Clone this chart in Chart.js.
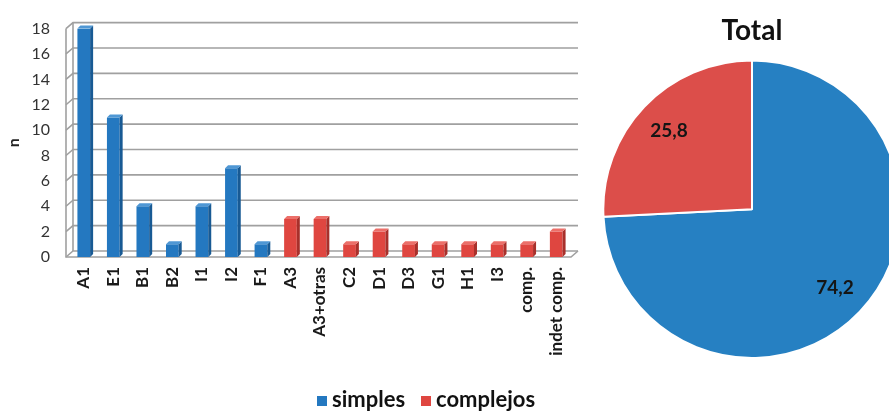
<!DOCTYPE html>
<html>
<head>
<meta charset="utf-8">
<script src="https://cdn.jsdelivr.net/npm/chart.js@4.4.1/dist/chart.umd.min.js"></script>
<style>
  html, body { margin: 0; padding: 0; background: #fff; overflow: hidden; }
  #wrap { position: relative; width: 889px; height: 414px; overflow: hidden; }
  #barChart { position: absolute; left: 0; top: 0; }
  #pieChart { position: absolute; left: 602px; top: 0; }
  #legend {
    position: absolute; left: 317px; top: 385px;
    display: flex; align-items: center; gap: 16px;
    font: bold 22px Lato, "Open Sans", sans-serif; color: #111;
  }
  #legend .item { display: flex; align-items: center; gap: 5px; }
  #legend .sw { width: 10px; height: 10px; display: inline-block; margin-top: 4px; }
</style>
</head>
<body>
<div id="wrap">
  <canvas id="barChart" width="600" height="414"></canvas>
  <canvas id="pieChart" width="300" height="414"></canvas>
  <div id="legend"></div>
</div>
<script>
const categories = ["A1", "E1", "B1", "B2", "I1", "I2", "F1", "A3", "A3+otras", "C2", "D1", "D3", "G1", "H1", "I3", "comp.", "indet comp."];
const simples = [18, 11, 4, 1, 4, 7, 1, null, null, null, null, null, null, null, null, null, null];
const complejos = [null, null, null, null, null, null, null, 3, 3, 1, 2, 1, 1, 1, 1, 1, 2];
const yTicks = [0, 2, 4, 6, 8, 10, 12, 14, 16, 18];

const groupLabels = ["simples", "complejos"];
const totalValues = [74.2, 25.8];

const barColors = ["#2478c0", "#df4640"];
const sideColors = ["#185a94", "#a8302b"];
const topColors = ["#4f97d4", "#ec6f69"];
const pieColors = ["#2680c2", "#dc4e4a"];

const FONT = 'Lato, "Open Sans", sans-serif';
const DX = 7;
const DY = 6;

// back wall, side wall and floor of the pseudo-3D plot box
const wall3d = {
  id: "wall3d",
  beforeDatasetsDraw(chart) {
    const { ctx, chartArea: a, scales } = chart;
    const y = scales.y;
    const front = a.left - 3;
    ctx.save();
    ctx.strokeStyle = "#a0a0a0";
    ctx.lineWidth = 1.6;
    yTicks.forEach((v) => {
      const py = y.getPixelForValue(v);
      ctx.beginPath();
      ctx.moveTo(front, py);
      ctx.lineTo(front + DX, py - DY);
      ctx.lineTo(a.right + DX, py - DY);
      ctx.stroke();
    });
    const top = y.getPixelForValue(yTicks[yTicks.length - 1]);
    const bottom = y.getPixelForValue(0);
    ctx.beginPath();
    ctx.moveTo(front, top);
    ctx.lineTo(front, bottom);
    ctx.lineTo(a.right, bottom);
    ctx.lineTo(a.right + DX, bottom - DY);
    ctx.moveTo(front + DX, top - DY);
    ctx.lineTo(front + DX, bottom - DY);
    ctx.stroke();
    ctx.restore();
  },
  afterDatasetsDraw(chart) {
    const { ctx } = chart;
    const d = 3;
    ctx.save();
    chart.data.datasets.forEach((ds, i) => {
      chart.getDatasetMeta(i).data.forEach((bar, j) => {
        if (ds.data[j] == null) return;
        const { x, y, base, width } = bar.getProps(["x", "y", "base", "width"], true);
        const l = x - width / 2;
        const r = x + width / 2;
        ctx.fillStyle = sideColors[i];
        ctx.beginPath();
        ctx.moveTo(r, y);
        ctx.lineTo(r + d, y - d);
        ctx.lineTo(r + d, base - d);
        ctx.lineTo(r, base);
        ctx.closePath();
        ctx.fill();
        ctx.fillStyle = topColors[i];
        ctx.beginPath();
        ctx.moveTo(l, y);
        ctx.lineTo(l + d, y - d);
        ctx.lineTo(r + d, y - d);
        ctx.lineTo(r, y);
        ctx.closePath();
        ctx.fill();
      });
    });
    ctx.restore();
  },
};

new Chart(document.getElementById("barChart"), {
  type: "bar",
  data: {
    labels: categories,
    datasets: [
      { label: groupLabels[0], data: simples, backgroundColor: barColors[0] },
      { label: groupLabels[1], data: complejos, backgroundColor: barColors[1] },
    ],
  },
  options: {
    responsive: false,
    animation: false,
    layout: { padding: { top: 23, right: 29, bottom: 37, left: 0 } },
    datasets: { bar: { categoryPercentage: 1, barPercentage: 0.43, grouped: false } },
    plugins: { legend: { display: false }, tooltip: { enabled: false } },
    scales: {
      x: {
        grid: { display: false, drawTicks: false },
        border: { display: false },
        ticks: {
          autoSkip: false,
          minRotation: 90,
          maxRotation: 90,
          padding: 10,
          color: "#1a1a1a",
          font: { family: FONT, weight: "bold", size: 17 },
        },
        afterFit(scale) { scale.height = 120; },
      },
      y: {
        min: 0,
        max: 18,
        grid: { display: false, drawTicks: false },
        border: { display: false },
        ticks: {
          stepSize: 2,
          padding: 19,
          color: "#333",
          font: { family: FONT, size: 16 },
        },
        title: {
          display: true,
          text: "n",
          color: "#222",
          font: { family: FONT, weight: "bold", size: 16 },
        },
        afterFit(scale) { scale.width = 69; },
      },
    },
  },
  plugins: [wall3d],
});

// percentage labels inside the slices
const sliceLabels = {
  id: "sliceLabels",
  afterDatasetsDraw(chart) {
    const { ctx } = chart;
    const meta = chart.getDatasetMeta(0);
    ctx.save();
    ctx.font = `bold 19px ${FONT}`;
    ctx.fillStyle = "#151515";
    ctx.textAlign = "center";
    ctx.textBaseline = "middle";
    meta.data.forEach((arc, i) => {
      const { x, y, startAngle, endAngle, outerRadius } = arc.getProps(["x", "y", "startAngle", "endAngle", "outerRadius"], true);
      const mid = (startAngle + endAngle) / 2;
      const r = outerRadius * 0.77;
      const text = totalValues[i].toFixed(1).replace(".", ",");
      ctx.fillText(text, x + Math.cos(mid) * r, y + Math.sin(mid) * r);
    });
    ctx.restore();
  },
};

new Chart(document.getElementById("pieChart"), {
  type: "pie",
  data: {
    labels: groupLabels,
    datasets: [{
      data: totalValues,
      backgroundColor: pieColors,
      borderColor: "#fff",
      borderWidth: 2,
    }],
  },
  options: {
    responsive: false,
    animation: false,
    layout: { padding: { top: 14, bottom: 55, left: 0, right: 0 } },
    plugins: {
      legend: { display: false },
      tooltip: { enabled: false },
      title: {
        display: true,
        text: "Total",
        color: "#111",
        font: { family: FONT, weight: "bold", size: 28 },
        padding: { top: 0, bottom: 12 },
      },
    },
  },
  plugins: [sliceLabels],
});

document.getElementById("legend").innerHTML = groupLabels
  .map((name, i) => `<span class="item"><span class="sw" style="background:${barColors[i]}"></span>${name}</span>`)
  .join("");
</script>
</body>
</html>
